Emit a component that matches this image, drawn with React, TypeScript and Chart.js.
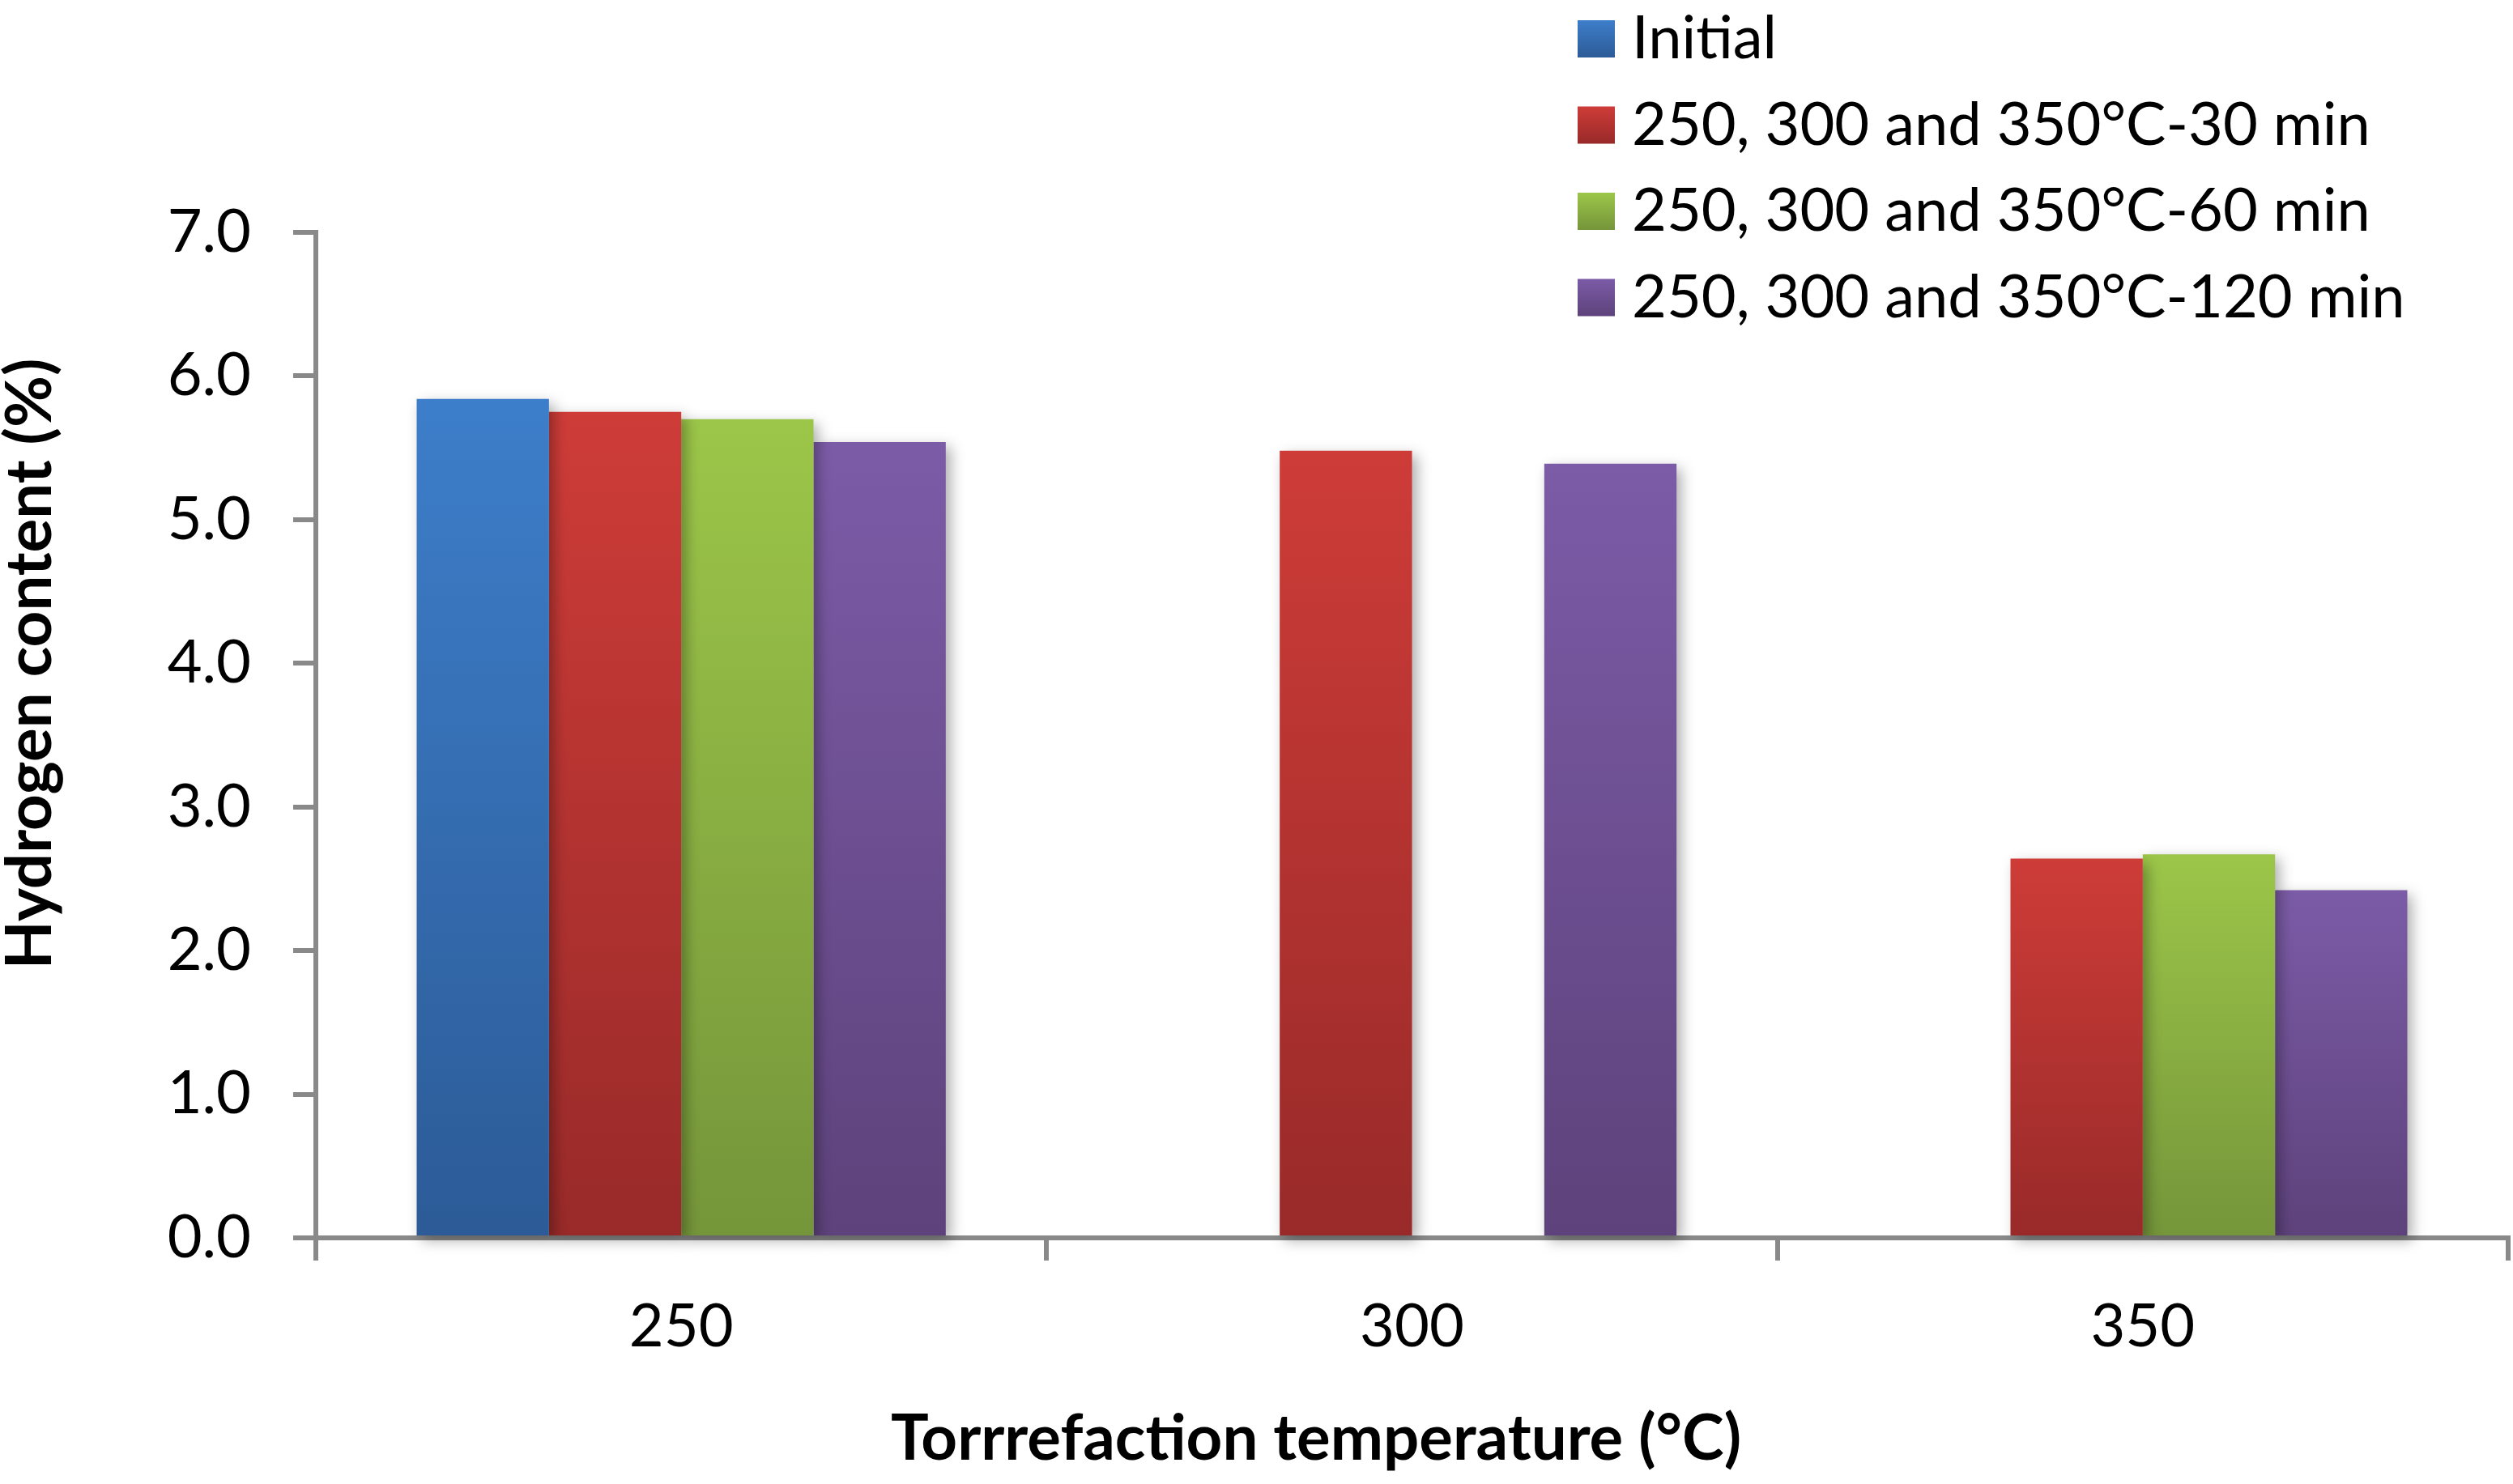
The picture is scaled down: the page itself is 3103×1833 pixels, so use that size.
import { useEffect, useRef } from 'react';
import { Chart, registerables } from 'chart.js';

Chart.register(...registerables);

const W = 3103;
const H = 1833;
const FONT = 'Lato, "Open Sans", sans-serif';

const categories = ['250', '300', '350'];
const initialValues = [5.84, null, null];
const min30Values = [5.75, 5.48, 2.64];
const min60Values = [5.7, null, 2.67];
const min120Values = [5.54, 5.39, 2.42];
const yTicks = [0, 1, 2, 3, 4, 5, 6, 7];

const seriesLabels = [
  'Initial',
  '250, 300 and 350\u00B0C-30 min',
  '250, 300 and 350\u00B0C-60 min',
  '250, 300 and 350\u00B0C-120 min',
];
const xTitle = 'Torrrefaction temperature (\u00B0C)';
const yTitle = 'Hydrogen content (%)';

// top / bottom colours of each bar gradient
const shades = [
  ['#3d7eca', '#2c5b97'],
  ['#ce3c38', '#982a29'],
  ['#9cc649', '#75953a'],
  ['#7c5ba7', '#5d427b'],
];

const AXIS = '#898989';

function barFill(top: string, bottom: string) {
  return (ctx: any) => {
    const chart = ctx.chart;
    const v = ctx.raw;
    if (!chart.chartArea || v == null || !chart.scales.y) return top;
    const ys = chart.scales.y;
    const g = chart.ctx.createLinearGradient(0, ys.getPixelForValue(v), 0, ys.getPixelForValue(0));
    g.addColorStop(0, top);
    g.addColorStop(1, bottom);
    return g;
  };
}

// soft drop shadow behind the bars
const shadowPlugin = {
  id: 'barShadow',
  beforeDatasetsDraw(chart: any) {
    const c = chart.ctx;
    c.save();
    c.shadowColor = 'rgba(0,0,0,0.32)';
    c.shadowBlur = 16;
    c.shadowOffsetX = 6;
    c.shadowOffsetY = 6;
  },
  afterDatasetsDraw(chart: any) {
    chart.ctx.restore();
  },
};

// legend in the top right corner, over the plot
const legendPlugin = {
  id: 'cornerLegend',
  afterDraw(chart: any) {
    const c = chart.ctx;
    c.save();
    c.font = `74px ${FONT}`;
    c.textBaseline = 'alphabetic';
    c.textAlign = 'left';
    chart.data.datasets.forEach((ds: any, i: number) => {
      const top = 25 + i * 106.5;
      const g = c.createLinearGradient(0, top, 0, top + 46);
      g.addColorStop(0, shades[i][0]);
      g.addColorStop(1, shades[i][1]);
      c.fillStyle = g;
      c.fillRect(1948, top, 46, 46);
      c.fillStyle = '#000';
      c.fillText(ds.label, 2015, top + 47);
    });
    c.restore();
  },
};

// axis titles, placed like the original (not centred on the plot)
const titlesPlugin = {
  id: 'axisTitles',
  afterDraw(chart: any) {
    const c = chart.ctx;
    c.save();
    c.font = `bold 78px ${FONT}`;
    c.fillStyle = '#000';
    c.textAlign = 'center';
    c.textBaseline = 'alphabetic';
    c.fillText(xTitle, 1625, 1803);
    c.translate(63, 820);
    c.rotate(-Math.PI / 2);
    c.fillText(yTitle, 0, 0);
    c.restore();
  },
};

export default function App() {
  const canvasRef = useRef<HTMLCanvasElement>(null);
  const chartRef = useRef<any>(null);

  useEffect(() => {
    if (!canvasRef.current) return;
    if (chartRef.current) chartRef.current.destroy();
    document.body.style.margin = '0';

    const series = [initialValues, min30Values, min60Values, min120Values];

    chartRef.current = new Chart(canvasRef.current, {
      type: 'bar',
      data: {
        labels: categories,
        datasets: series.map((data, i) => ({
          label: seriesLabels[i],
          data,
          backgroundColor: barFill(shades[i][0], shades[i][1]),
          borderWidth: 0,
          clip: false as any,
        })),
      },
      options: {
        responsive: false,
        devicePixelRatio: 1,
        animation: false,
        barPercentage: 1,
        categoryPercentage: 0.724,
        layout: { padding: { top: 287, right: 6, left: 0, bottom: 0 } },
        plugins: {
          legend: { display: false },
          tooltip: { enabled: false },
        },
        scales: {
          x: {
            z: 1,
            offset: true,
            afterFit: (scale: any) => {
              scale.height = 304;
            },
            grid: {
              display: true,
              offset: true,
              drawOnChartArea: false,
              drawTicks: true,
              tickLength: 28,
              color: AXIS,
              lineWidth: 6,
            },
            border: { display: true, color: AXIS, width: 6 },
            ticks: {
              color: '#000',
              padding: 38,
              font: { family: FONT, size: 74 },
            },
          },
          y: {
            z: 1,
            min: yTicks[0],
            max: yTicks[yTicks.length - 1],
            afterFit: (scale: any) => {
              scale.width = 390;
            },
            afterBuildTicks: (scale: any) => {
              scale.ticks = yTicks.map((v) => ({ value: v }));
            },
            grid: {
              display: true,
              drawOnChartArea: false,
              drawTicks: true,
              tickLength: 28,
              color: AXIS,
              lineWidth: 6,
            },
            border: { display: true, color: AXIS, width: 6 },
            ticks: {
              color: '#000',
              padding: 52,
              font: { family: FONT, size: 74 },
              callback: (v: any) => Number(v).toFixed(1),
            },
          },
        },
      },
      plugins: [shadowPlugin, legendPlugin, titlesPlugin],
    });

    return () => {
      if (chartRef.current) {
        chartRef.current.destroy();
        chartRef.current = null;
      }
    };
  }, []);

  return (
    <div style={{ position: 'absolute', left: 0, top: 0, width: W, height: H, background: '#fff' }}>
      <canvas ref={canvasRef} width={W} height={H} style={{ display: 'block' }}></canvas>
    </div>
  );
}
